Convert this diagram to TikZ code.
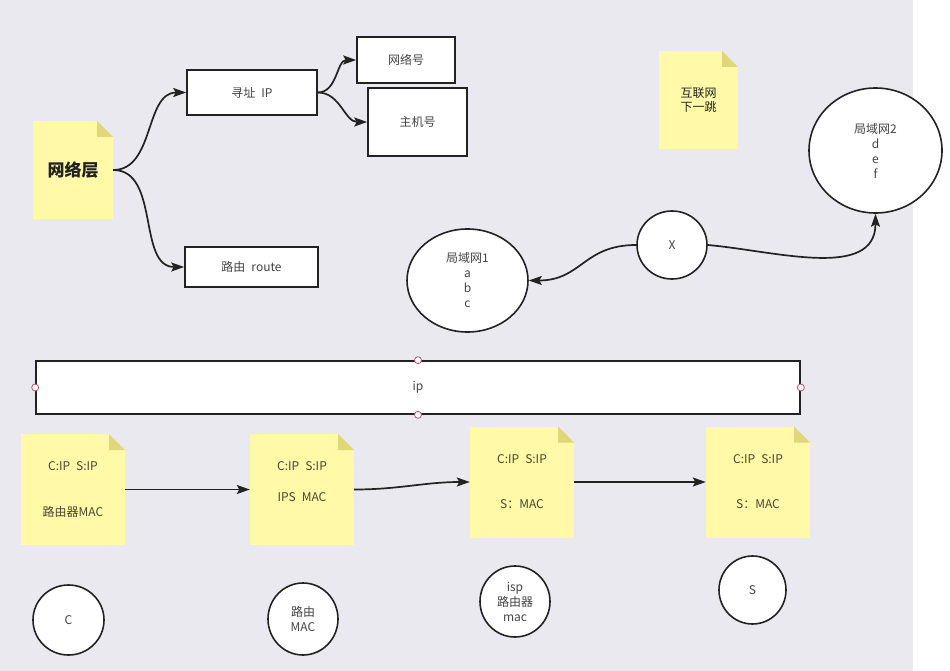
\documentclass[tikz,border=0pt]{standalone}
\usepackage{fontspec}
\setmainfont{Noto Sans CJK SC}
\usetikzlibrary{arrows.meta,shapes.geometric}

\definecolor{canvas}{HTML}{E9E9EF}
\definecolor{sticky}{HTML}{FFF9A8}
\definecolor{stickyfold}{HTML}{E0D77A}
\definecolor{ink}{HTML}{222222}
\definecolor{txt}{HTML}{444444}
\definecolor{notetxt}{HTML}{4A4630}
\definecolor{handle}{HTML}{B0586A}

\begin{document}
\begin{tikzpicture}[x=1pt, y=-1pt,
  every node/.style={font=\fontsize{12}{15}\selectfont, text=txt, align=center},
  box/.style={rectangle, draw=ink, line width=1.6pt, fill=white, inner sep=0pt},
  blob/.style={ellipse, draw=ink, line width=1.6pt, fill=white, inner sep=0pt},
  note/.style={rectangle, fill=sticky, inner sep=0pt, text=notetxt,
    path picture={
      \coordinate (corner) at (path picture bounding box.north east);
      \fill[canvas] ([xshift=-16pt]corner) -- (corner) -- ([yshift=-16pt]corner) -- cycle;
      \fill[stickyfold] ([xshift=-16pt]corner) -- ([xshift=-16pt,yshift=-16pt]corner)
        -- ([yshift=-16pt]corner) -- cycle;
    }},
  link/.style={draw=ink, line width=1.7pt, -{Stealth[length=13pt,width=9pt,inset=2.5pt]}},
  grip/.style={circle, draw=handle, fill=white, line width=0.8pt, minimum size=7pt, inner sep=0pt},
]
% canvas
\fill[canvas] (0,0) rectangle (913,671);
\fill[white] (913,0) rectangle (950,671);
\useasboundingbox (0,0) rectangle (950,671);

% network layer tree
\node[note, minimum width=80pt, minimum height=98pt, font=\fontsize{17}{20}\selectfont\bfseries,
  text=ink] (layer) at (73,170) {网络层};
\node[box, minimum width=130pt, minimum height=45pt] (addr) at (252,92.5) {寻址\enspace IP};
\node[box, minimum width=133pt, minimum height=40pt] (route) at (251.5,267) {路由\enspace route};
\node[box, minimum width=98pt, minimum height=46pt] (netid) at (406,60) {网络号};
\node[box, minimum width=99pt, minimum height=68pt] (hostid) at (417.5,122) {主机号};
\draw[link] (layer.east) to[out=0, in=180] (addr.west);
\draw[link] (layer.east) to[out=0, in=180] (route.west);
\draw[link] (addr.east) to[out=0, in=180] (netid.west);
\draw[link] (addr.east) to[out=0, in=180] (hostid.west);

% next hop
\node[note, minimum width=79pt, minimum height=98pt, font=\fontsize{12}{14}\selectfont,
  text=ink] (hop) at (698.5,100) {互联网\\下一跳};
\node[blob, minimum width=133pt, minimum height=125pt, font=\fontsize{12}{15}\selectfont]
  (lan2) at (875.5,150.5) {局域网2\\d\\e\\f};
\node[blob, minimum width=70pt, minimum height=68pt] (x) at (672,245) {X};
\node[blob, minimum width=121pt, minimum height=103pt, font=\fontsize{12}{15}\selectfont]
  (lan1) at (467.5,280.5) {局域网1\\a\\b\\c};
\draw[link] (x.west) to[out=180, in=0, looseness=1.2] (lan1.east);
\draw[link] (x.east) to[out=-5, in=-90] (lan2.south);

% ip bar
\node[box, minimum width=764pt, minimum height=53pt] (bar) at (418,387.5) {ip};
\foreach \side in {north,south,east,west}
  \node[grip] at (bar.\side) {};

% packets
\node[note, minimum width=104pt, minimum height=111pt] (p1) at (73,489.5)
  {C:IP\enspace S:IP\\[31pt]路由器MAC};
\node[note, minimum width=104pt, minimum height=111pt] (p2) at (302,489.5)
  {C:IP\enspace S:IP\\[16pt]IPS\enspace MAC\\[1pt]~};
\node[note, minimum width=104pt, minimum height=111pt] (p3) at (522,482)
  {C:IP\enspace S:IP\\[30pt]S：MAC};
\node[note, minimum width=104pt, minimum height=111pt] (p4) at (758,482)
  {C:IP\enspace S:IP\\[30pt]S：MAC};
\draw[link] (p1.east) -- (p2.west);
\draw[link] (p2.east) to[out=0, in=180] (p3.west);
\draw[link] (p3.east) -- (p4.west);

% hosts
\node[blob, minimum width=71pt, minimum height=70pt] (c) at (68.5,620) {C};
\node[blob, minimum width=70pt, minimum height=72pt, font=\fontsize{12}{15}\selectfont]
  (gw) at (303,619) {路由\\MAC};
\node[blob, minimum width=70pt, minimum height=71pt, font=\fontsize{12}{15}\selectfont]
  (isp) at (515,601.5) {isp\\路由器\\mac};
\node[blob, minimum width=67pt, minimum height=68pt] (s) at (752.5,590) {S};
\end{tikzpicture}
\end{document}
